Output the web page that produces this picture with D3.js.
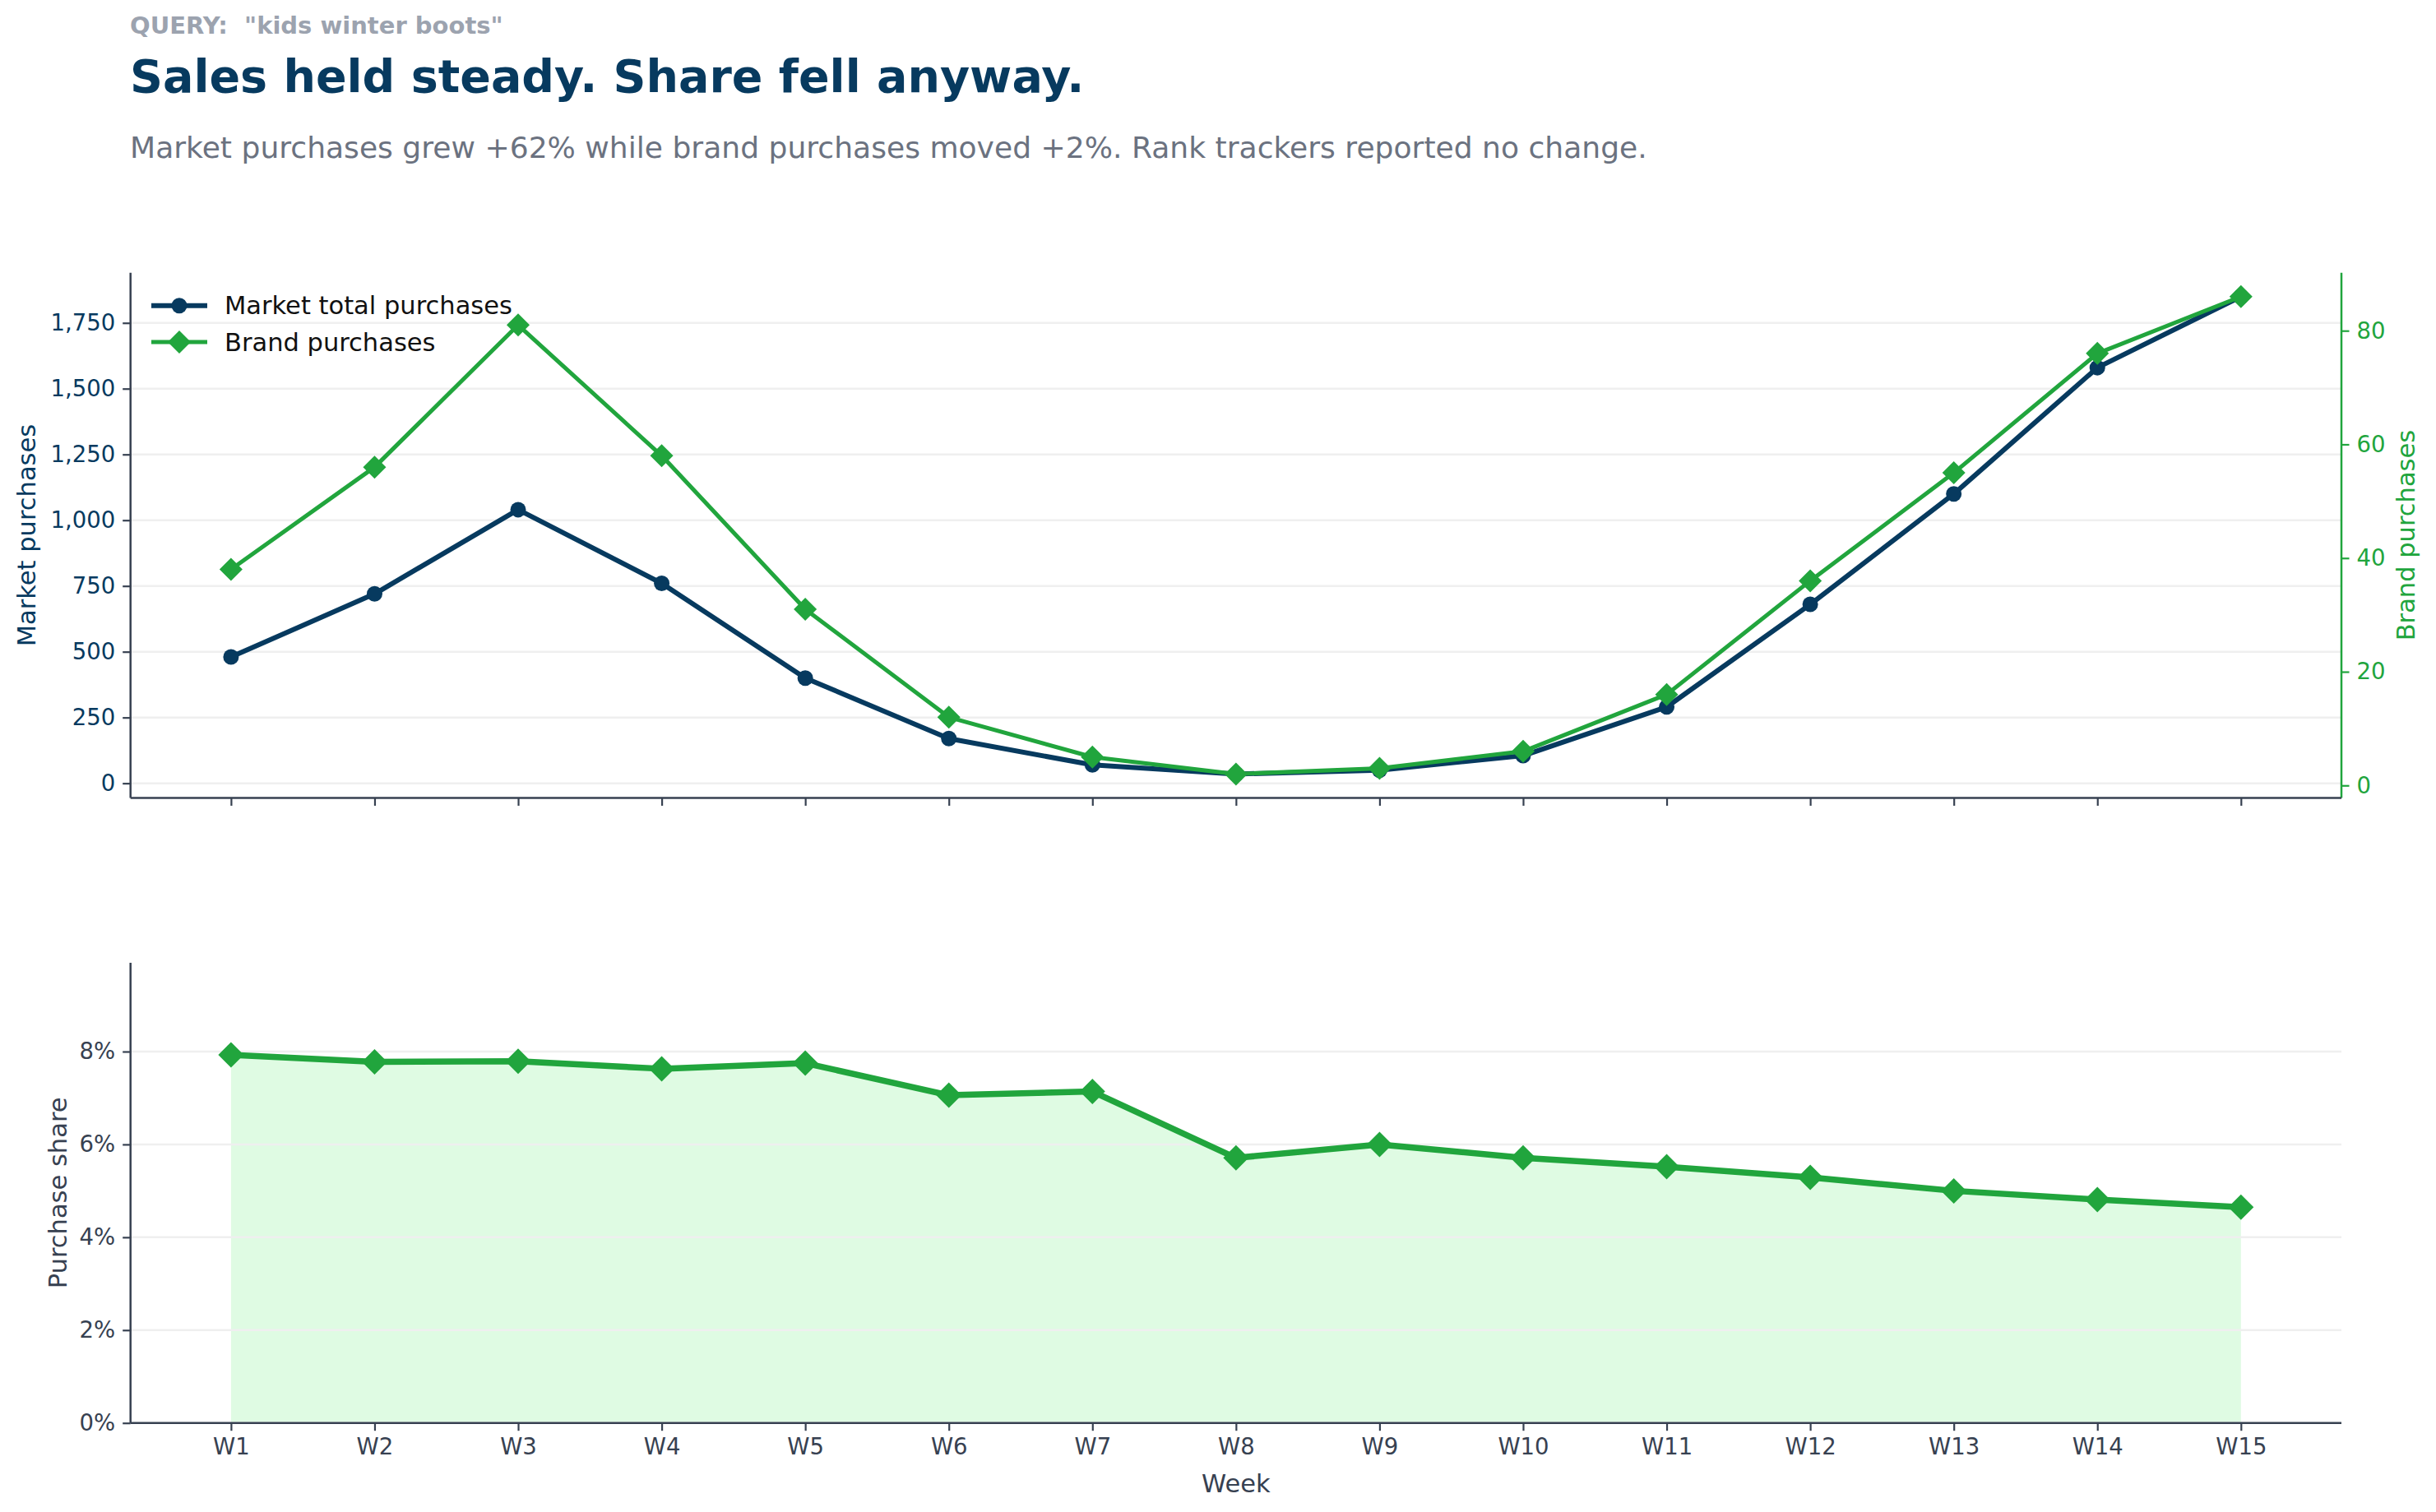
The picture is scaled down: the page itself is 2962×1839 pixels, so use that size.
<!DOCTYPE html>
<html>
<head>
<meta charset="utf-8">
<script src="https://cdn.jsdelivr.net/npm/d3@7/dist/d3.min.js"></script>
<style>
body { margin: 0; background: #fff; }
text { font-family: "DejaVu Sans", sans-serif; }
</style>
</head>
<body>
<svg id="chart"></svg>
<script>
var weeks = ['W1', 'W2', 'W3', 'W4', 'W5', 'W6', 'W7', 'W8', 'W9', 'W10', 'W11', 'W12', 'W13', 'W14', 'W15'];
var marketPurchases = [480, 720, 1040, 760, 400, 170, 70, 35, 50, 105, 290, 680, 1100, 1580, 1850];
var brandPurchases = [38, 56, 81, 58, 31, 12, 5, 2, 3, 6, 16, 36, 55, 76, 86];
var purchaseShare = [7.93, 7.78, 7.79, 7.63, 7.75, 7.06, 7.14, 5.71, 6.00, 5.71, 5.52, 5.29, 5.00, 4.81, 4.65];
var marketTicks = [0, 250, 500, 750, 1000, 1250, 1500, 1750];
var brandTicks = [0, 20, 40, 60, 80];
var shareTicks = [0, 2, 4, 6, 8];

var W = 2962, H = 1839;
var navy = '#073a5f', green = '#21a53d', fillGreen = '#dffbe3',
    axisGray = '#374151', gridGray = '#efefef';

var svg = d3.select('#chart').attr('width', W).attr('height', H);

// header
svg.append('text').attr('x', 158).attr('y', 41)
    .style('white-space', 'pre')
    .attr('font-size', 29).attr('font-weight', 'bold').attr('fill', '#9ca3af')
    .text('QUERY:  "kids winter boots"');
svg.append('text').attr('x', 158).attr('y', 112)
    .attr('font-size', 55.5).attr('font-weight', 'bold').attr('fill', navy)
    .text('Sales held steady. Share fell anyway.');
svg.append('text').attr('x', 158).attr('y', 192)
    .attr('font-size', 36.1).attr('fill', '#6b7280')
    .text('Market purchases grew +62% while brand purchases moved +2%. Rank trackers reported no change.');

var left = 158.7, right = 2847;
var top1 = 331.7, bot1 = 970.5;
var top2 = 1171, bot2 = 1730.7;

var x = d3.scaleLinear().domain([-0.7, weeks.length - 1 + 0.7]).range([left, right]);

function padded(arr) {
    var lo = d3.min(arr), hi = d3.max(arr), m = (hi - lo) * 0.05;
    return [lo - m, hi + m];
}
var yM = d3.scaleLinear().domain(padded(marketPurchases)).range([bot1, top1]);
var yB = d3.scaleLinear().domain(padded(brandPurchases)).range([bot1, top1]);
var yS = d3.scaleLinear().domain([0, d3.max(purchaseShare) * 1.25]).range([bot2, top2]);

function diamond(cx, cy, r) {
    return 'M' + cx + ',' + (cy - r) + 'L' + (cx + r) + ',' + cy + 'L' + cx + ',' + (cy + r) + 'L' + (cx - r) + ',' + cy + 'Z';
}

function styleAxis(g, lineColor, textColor) {
    g.select('.domain').attr('stroke', lineColor).attr('stroke-width', 2.5);
    g.selectAll('.tick line').attr('stroke', lineColor).attr('stroke-width', 2.2);
    g.selectAll('.tick text').attr('fill', textColor).attr('font-size', 27.5)
        .style('font-family', '"DejaVu Sans", sans-serif');
}

// ---------- top panel ----------
var p1 = svg.append('g');

p1.selectAll('.grid1').data(marketTicks).enter().append('line')
    .attr('x1', left).attr('x2', right)
    .attr('y1', function(d) { return yM(d); }).attr('y2', function(d) { return yM(d); })
    .attr('stroke', gridGray).attr('stroke-width', 2.5);

var mLine = d3.line().x(function(d, i) { return x(i); }).y(function(d) { return yM(d); });
p1.append('path').datum(marketPurchases).attr('d', mLine)
    .attr('fill', 'none').attr('stroke', navy).attr('stroke-width', 6).attr('stroke-linejoin', 'round');
p1.selectAll('.mdot').data(marketPurchases).enter().append('circle')
    .attr('cx', function(d, i) { return x(i); }).attr('cy', function(d) { return yM(d); })
    .attr('r', 9.5).attr('fill', navy);

var bLine = d3.line().x(function(d, i) { return x(i); }).y(function(d) { return yB(d); });
p1.append('path').datum(brandPurchases).attr('d', bLine)
    .attr('fill', 'none').attr('stroke', green).attr('stroke-width', 5).attr('stroke-linejoin', 'round');
p1.selectAll('.bdot').data(brandPurchases).enter().append('path')
    .attr('d', function(d, i) { return diamond(x(i), yB(d), 14); })
    .attr('fill', green);

var axL1 = p1.append('g').attr('transform', 'translate(' + left + ',0)')
    .call(d3.axisLeft(yM).tickValues(marketTicks).tickFormat(d3.format(',')).tickSize(9.5).tickPadding(9));
axL1.select('.domain').attr('d', 'M0,' + top1 + 'V' + bot1);
styleAxis(axL1, axisGray, navy);

var axR1 = p1.append('g').attr('transform', 'translate(' + right + ',0)')
    .call(d3.axisRight(yB).tickValues(brandTicks).tickSize(9.5).tickPadding(9));
axR1.select('.domain').attr('d', 'M0,' + top1 + 'V' + bot1);
styleAxis(axR1, green, green);

var axB1 = p1.append('g').attr('transform', 'translate(0,' + bot1 + ')')
    .call(d3.axisBottom(x).tickValues(d3.range(weeks.length)).tickFormat('').tickSize(9.5));
axB1.select('.domain').attr('d', 'M' + left + ',0H' + right);
styleAxis(axB1, axisGray, axisGray);

p1.append('text')
    .attr('transform', 'translate(32,' + ((top1 + bot1) / 2) + ') rotate(-90)')
    .attr('text-anchor', 'middle').attr('dy', '0.35em')
    .attr('font-size', 30.5).attr('fill', navy).text('Market purchases');
p1.append('text')
    .attr('transform', 'translate(2925,' + ((top1 + bot1) / 2) + ') rotate(-90)')
    .attr('text-anchor', 'middle').attr('dy', '0.35em')
    .attr('font-size', 30.5).attr('fill', green).text('Brand purchases');

// legend
var legend = p1.append('g');
var legendItems = [
    { label: 'Market total purchases', color: navy, shape: 'circle', y: 371.7, w: 6 },
    { label: 'Brand purchases', color: green, shape: 'diamond', y: 416, w: 5 }
];
legendItems.forEach(function(it) {
    legend.append('line').attr('x1', 184).attr('x2', 252).attr('y1', it.y).attr('y2', it.y)
        .attr('stroke', it.color).attr('stroke-width', it.w);
    if (it.shape === 'circle') {
        legend.append('circle').attr('cx', 218).attr('cy', it.y).attr('r', 9.5).attr('fill', it.color);
    } else {
        legend.append('path').attr('d', diamond(218, it.y, 14)).attr('fill', it.color);
    }
    legend.append('text').attr('x', 273).attr('y', it.y).attr('dy', '0.35em')
        .attr('font-size', 30.5).attr('fill', '#111').text(it.label);
});

// ---------- bottom panel ----------
var p2 = svg.append('g');

var area = d3.area().x(function(d, i) { return x(i); }).y0(yS(0)).y1(function(d) { return yS(d); });
p2.append('path').datum(purchaseShare).attr('d', area).attr('fill', fillGreen);

p2.selectAll('.grid2').data(shareTicks).enter().append('line')
    .attr('x1', left).attr('x2', right)
    .attr('y1', function(d) { return yS(d); }).attr('y2', function(d) { return yS(d); })
    .attr('stroke', gridGray).attr('stroke-width', 2.5);

var sLine = d3.line().x(function(d, i) { return x(i); }).y(function(d) { return yS(d); });
p2.append('path').datum(purchaseShare).attr('d', sLine)
    .attr('fill', 'none').attr('stroke', green).attr('stroke-width', 7.5).attr('stroke-linejoin', 'round');
p2.selectAll('.sdot').data(purchaseShare).enter().append('path')
    .attr('d', function(d, i) { return diamond(x(i), yS(d), 15.5); })
    .attr('fill', green);

var axL2 = p2.append('g').attr('transform', 'translate(' + left + ',0)')
    .call(d3.axisLeft(yS).tickValues(shareTicks).tickFormat(function(d) { return d + '%'; }).tickSize(9.5).tickPadding(9));
axL2.select('.domain').attr('d', 'M0,' + top2 + 'V' + bot2);
styleAxis(axL2, axisGray, axisGray);

var axB2 = p2.append('g').attr('transform', 'translate(0,' + bot2 + ')')
    .call(d3.axisBottom(x).tickValues(d3.range(weeks.length)).tickFormat(function(i) { return weeks[i]; }).tickSize(9.5).tickPadding(9));
axB2.select('.domain').attr('d', 'M' + left + ',0H' + right);
styleAxis(axB2, axisGray, axisGray);

p2.append('text')
    .attr('transform', 'translate(70,' + ((top2 + bot2) / 2) + ') rotate(-90)')
    .attr('text-anchor', 'middle').attr('dy', '0.35em')
    .attr('font-size', 30.5).attr('fill', axisGray).text('Purchase share');
p2.append('text').attr('x', (left + right) / 2).attr('y', 1815)
    .attr('text-anchor', 'middle')
    .attr('font-size', 30.5).attr('fill', axisGray).text('Week');
</script>
</body>
</html>
